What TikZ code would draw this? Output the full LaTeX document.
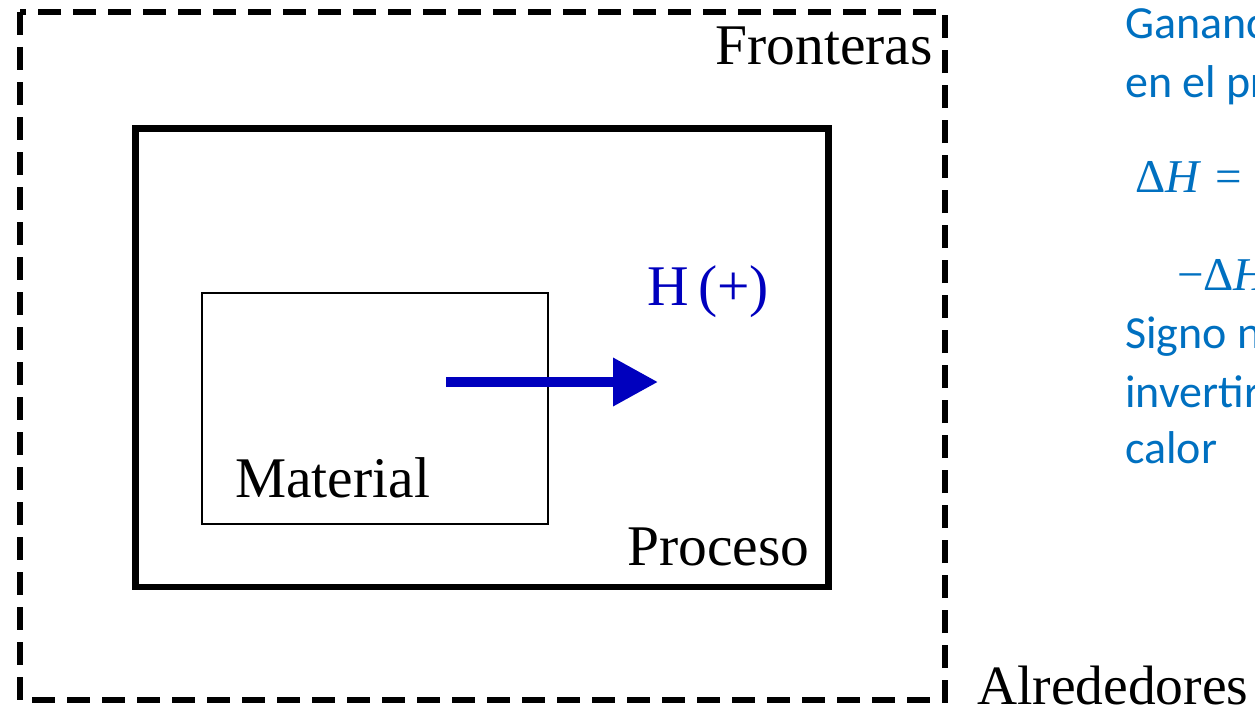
\documentclass[tikz,border=0pt]{standalone}
\usepackage{fontspec}
\setmainfont{Liberation Serif}
\newfontfamily\notefont{Carlito}
\usetikzlibrary{arrows.meta}
\definecolor{noteblue}{RGB}{0,112,192}
\definecolor{flowblue}{RGB}{0,0,190}
\tikzset{
	boundary/.style={line width=6pt,dash pattern=on 23pt off 12pt},
	processbox/.style={line width=6.5pt},
	materialbox/.style={line width=2pt},
	flow/.style={flowblue,line width=10pt,-{Triangle[length=45pt,width=46pt]}},
	label/.style={inner sep=0pt,anchor=base west,font=\fontsize{57.5}{69}\selectfont},
	note/.style={inner sep=0pt,anchor=base west,noteblue,font=\notefont\fontsize{46}{58}\selectfont},
	noteeq/.style={inner sep=0pt,anchor=base west,noteblue,font=\fontsize{47}{58}\selectfont}
}
\begin{document}
\begin{tikzpicture}[x=1pt,y=-1pt]
			\useasboundingbox (0,0) rectangle (1255,709);
			\clip (0,0) rectangle (1255,709);
			\coordinate (F1) at (20,12);
			\coordinate (F2) at (945,700);
			\coordinate (P1) at (135.5,128.5);
			\coordinate (P2) at (828.5,587);
			\coordinate (M1) at (202,293);
			\coordinate (M2) at (548,524);
			\coordinate (H1) at (446,382);
			\coordinate (H2) at (658,382);
			\draw [boundary] (F1) rectangle (F2);
			\draw [processbox] (P1) rectangle (P2);
			\draw [materialbox] (M1) rectangle (M2);
			\draw [flow] (H1) -- (H2);
			\node [label,anchor=base east] (fronteras) at (933,65) {Fronteras};
			\node [label,text=flowblue] (hplus) at (647,305) {H\,(+)};
			\node [label] (material) at (235,497) {Material};
			\node [label] (proceso) at (627,565) {Proceso};
			\node [label,font=\fontsize{55.5}{66}\selectfont] (alrededores) at (977,704) {Alrededores};
			% notas a la derecha (cortadas por el borde)
			\node [note] (n1) at (1125,38) {Ganancia de calor};
			\node [note] (n2) at (1125,97) {en el proceso};
			\node [noteeq] (n3) at (1135,192) {Δ\textit{H}\hspace{0.3em}=};
			\node [noteeq] (n4) at (1177,290) {−Δ\textit{H}};
			\node [note] (n5) at (1125,348) {Signo negativo al};
			\node [note] (n6) at (1125,407) {invertir el flujo de};
			\node [note] (n7) at (1125,463) {calor};
\end{tikzpicture}
\end{document}
